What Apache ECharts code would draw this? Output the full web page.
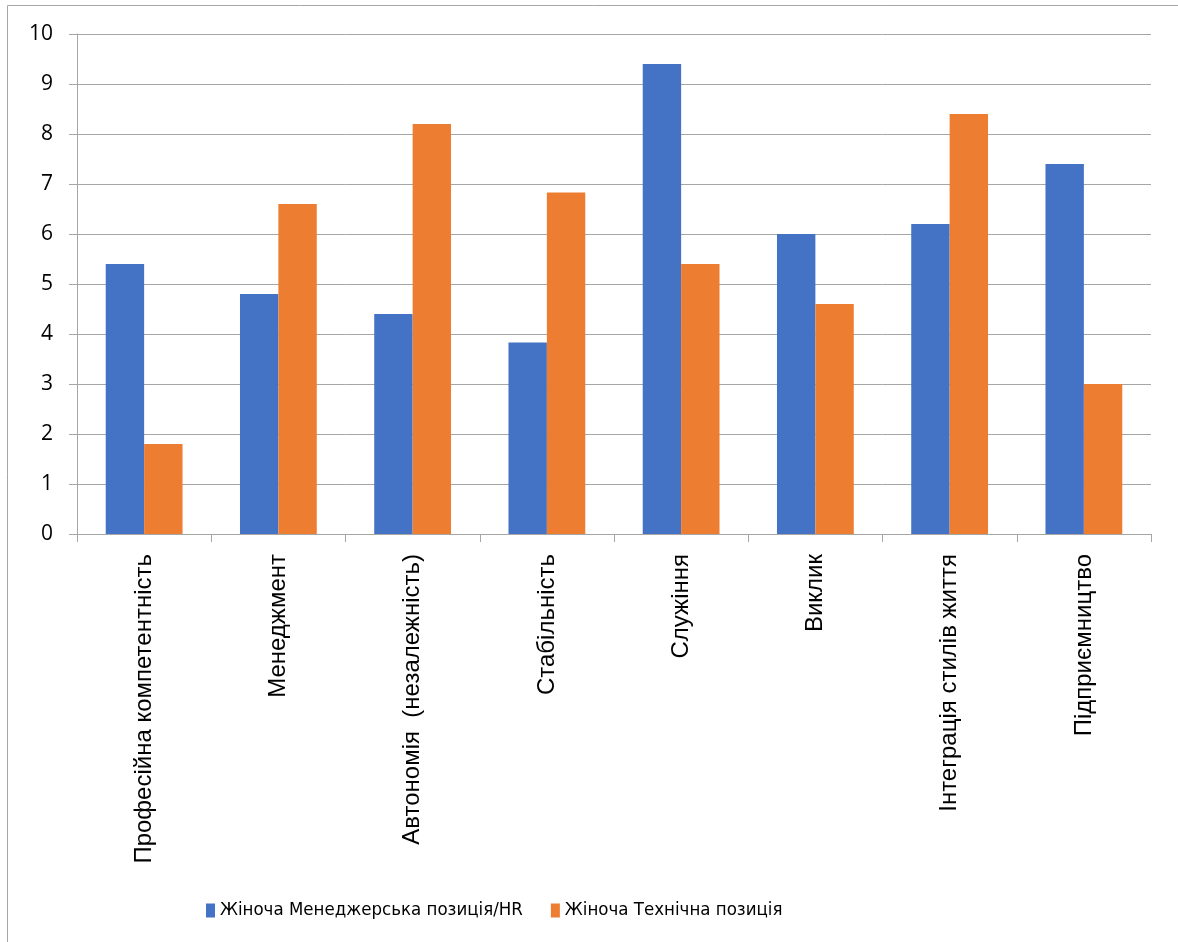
<!DOCTYPE html>
<html>
<head>
<meta charset="utf-8">
<script src="https://cdn.jsdelivr.net/npm/echarts@6/dist/echarts.min.js"></script>
<style>
  html, body { margin: 0; padding: 0; background: #fff; }
  #chart { width: 1178px; height: 942px; }
</style>
</head>
<body>
<div id="chart"></div>
<script>
// Career anchor scores for two groups of women
const categories = [
  'Професійна компетентність',
  'Менеджмент',
  'Автономія  (незалежність)',
  'Стабільність',
  'Служіння',
  'Виклик',
  'Інтеграція стилів життя',
  'Підприємництво'
];
const seriesNames = ['Жіноча Менеджерська позиція/HR', 'Жіноча Технічна позиція'];
const managerialHR = [5.4, 4.8, 4.4, 3.83, 9.4, 6.0, 6.2, 7.4];
const technical = [1.8, 6.6, 8.2, 6.83, 5.4, 4.6, 8.4, 3.0];
const yTicks = { min: 0, max: 10, interval: 1 };

const gridColor = '#a6a6a6';
const chart = echarts.init(document.getElementById('chart'));

chart.setOption({
  backgroundColor: '#ffffff',
  animation: false,
  graphic: [{
    type: 'rect',
    shape: { x: 7.5, y: 5.5, width: 1300, height: 1100 },
    style: { fill: 'none', stroke: '#a6a6a6', lineWidth: 1 },
    silent: true
  }],
  grid: { left: 77, right: 27, top: 34, bottom: 408, containLabel: false },
  legend: {
    top: 896,
    left: 201,
    itemWidth: 9,
    itemHeight: 14,
    itemGap: 28,
    icon: 'rect',
    textStyle: {
      fontFamily: '"Liberation Sans Narrow", "DejaVu Sans Condensed", sans-serif',
      fontSize: 18.5,
      color: '#000'
    },
    data: seriesNames
  },
  xAxis: {
    type: 'category',
    data: categories,
    axisLine: { show: true, lineStyle: { color: gridColor, width: 1 } },
    axisTick: { show: true, length: 8, lineStyle: { color: gridColor } },
    axisLabel: {
      rotate: 90,
      margin: 20,
      interval: 0,
      fontFamily: '"Liberation Sans", Arial, sans-serif',
      fontSize: 24,
      color: '#000'
    }
  },
  yAxis: {
    type: 'value',
    min: yTicks.min,
    max: yTicks.max,
    interval: yTicks.interval,
    axisLine: { show: true, lineStyle: { color: gridColor, width: 1 } },
    axisTick: { show: true, length: 8, lineStyle: { color: gridColor } },
    splitLine: { show: true, lineStyle: { color: gridColor, width: 1 } },
    axisLabel: {
      margin: 24,
      fontFamily: '"Open Sans", "Liberation Sans", sans-serif',
      fontSize: 21,
      color: '#000'
    }
  },
  series: [
    {
      name: seriesNames[0],
      type: 'bar',
      data: managerialHR,
      barGap: '0%',
      barCategoryGap: '42.8%',
      itemStyle: { color: '#4472C4' }
    },
    {
      name: seriesNames[1],
      type: 'bar',
      data: technical,
      barGap: '0%',
      barCategoryGap: '42.8%',
      itemStyle: { color: '#ED7D31' }
    }
  ]
});
</script>
</body>
</html>
